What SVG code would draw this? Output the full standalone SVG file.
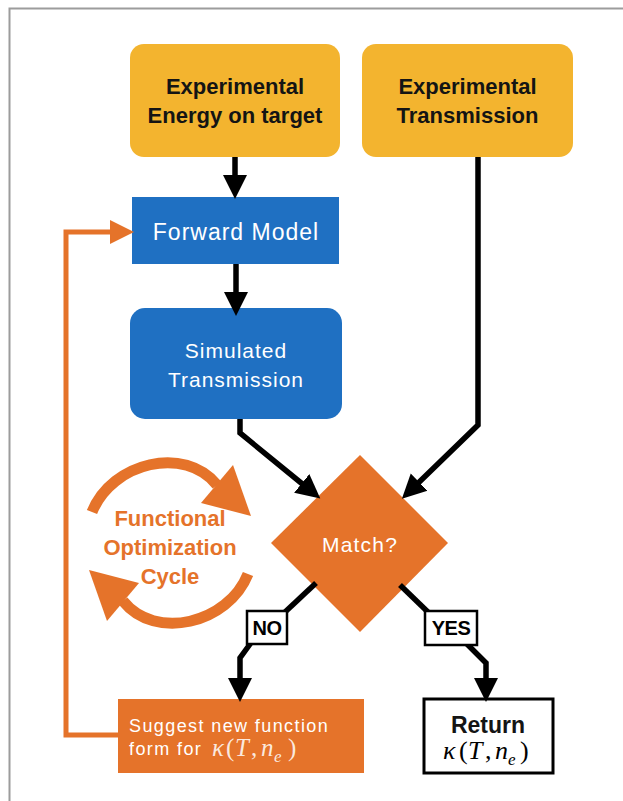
<svg xmlns="http://www.w3.org/2000/svg" width="623" height="801" viewBox="0 0 623 801">
<defs>
<style>
.frame{fill:none;stroke:#9c9c9c;stroke-width:2}
.yel{fill:#F3B42F}
.blue{fill:#1F70C2}
.org{fill:#E5732A}
.bt{font-family:"Liberation Sans",Arial,sans-serif;font-weight:bold;font-size:22px;fill:#141414;text-anchor:middle}
.wt{font-family:"Liberation Sans",Arial,sans-serif;font-size:21px;fill:#fff;text-anchor:middle;letter-spacing:1px}
.conn{fill:none;stroke:#000;stroke-width:5.5}
.oconn{fill:none;stroke:#E5732A;stroke-width:5}
.lab{fill:#fff;stroke:#000;stroke-width:2.5}
.labt{font-family:"Liberation Sans",Arial,sans-serif;font-weight:bold;font-size:20px;text-anchor:middle;fill:#000;letter-spacing:-0.5px}
.math{font-family:"Liberation Serif","Times New Roman",serif;font-style:italic;font-size:25px}
.up{font-style:normal}
.sub{font-size:17px}
.cyc{fill:none;stroke:#E5732A;stroke-width:11}
.cyct{font-family:"Liberation Sans",Arial,sans-serif;font-weight:bold;font-size:22px;fill:#E5732A;text-anchor:middle}
</style>
<marker id="ah" markerUnits="userSpaceOnUse" markerWidth="26" markerHeight="26" viewBox="0 -13 26 26" refX="12" refY="0" orient="auto"><path d="M0,-12 L24,0 L0,12 z" fill="#000"/></marker>
<marker id="aho" markerUnits="userSpaceOnUse" markerWidth="26" markerHeight="26" viewBox="0 -13 26 26" refX="12" refY="0" orient="auto"><path d="M0,-12 L24,0 L0,12 z" fill="#E5732A"/></marker>
</defs>
<rect x="0" y="0" width="623" height="801" fill="#fff"/>
<path class="frame" d="M9.5,801 V8.5 H623"/>

<g id="n-exp-energy">
<rect class="yel" x="130" y="44" width="210" height="113" rx="14"/>
<text class="bt" x="235" y="94">Experimental</text>
<text class="bt" x="235" y="123">Energy on target</text>
</g>
<g id="n-exp-trans">
<rect class="yel" x="362" y="44" width="211" height="113" rx="14"/>
<text class="bt" x="467.5" y="94">Experimental</text>
<text class="bt" x="467.5" y="123">Transmission</text>
</g>
<g id="n-forward">
<rect class="blue" x="132" y="197" width="207" height="67"/>
<text class="wt" x="236" y="240" style="font-size:23px">Forward Model</text>
</g>
<g id="n-sim">
<rect class="blue" x="130" y="308" width="212" height="111" rx="15"/>
<text class="wt" x="236" y="358">Simulated</text>
<text class="wt" x="236" y="387">Transmission</text>
</g>
<g id="n-match">
<path class="org" d="M360,455 L448,543 L360,632 L271,543 z"/>
<text class="wt" x="360" y="552" style="letter-spacing:1.2px">Match?</text>
</g>
<g id="n-suggest">
<rect class="org" x="118" y="699" width="246" height="74"/>
<text class="wt" x="129" y="732" style="font-size:18px;letter-spacing:1.4px;text-anchor:start">Suggest new function</text>
<text class="wt" x="129" y="755" style="font-size:18px;letter-spacing:1.4px;text-anchor:start">form for</text>
<text class="math" fill="#fff" fill-opacity="0.85"><tspan x="212" y="756">κ</tspan><tspan class="up" x="226">(</tspan><tspan x="235">T</tspan><tspan class="up" x="251">,</tspan><tspan x="261">n</tspan><tspan class="sub" x="274" y="762">e</tspan><tspan class="up" x="288" y="756">)</tspan></text>
</g>
<g id="n-return">
<rect x="424" y="699" width="129" height="74" fill="#fff" stroke="#000" stroke-width="3"/>
<text class="bt" x="488" y="733" style="font-size:23px">Return</text>
<text class="math" fill="#000" style="font-size:26px"><tspan x="443" y="759">κ</tspan><tspan class="up" x="459">(</tspan><tspan x="468">T</tspan><tspan class="up" x="485">,</tspan><tspan x="495">n</tspan><tspan class="sub" x="508" y="765">e</tspan><tspan class="up" x="520" y="759">)</tspan></text>
</g>
<g id="g-cycle">
<path class="cyc" d="M92,512 C112,462 185,445 217,485"/>
<polygon fill="#E5732A" points="233,465 251,516 201,503"/>
<path class="cyc" d="M248,574 C228,624 155,641 123,601"/>
<polygon fill="#E5732A" points="107,621 89,570 139,583"/>
<text class="cyct" x="170" y="526">Functional</text>
<text class="cyct" x="170" y="555">Optimization</text>
<text class="cyct" x="170" y="584">Cycle</text>
</g>

<g id="connectors">
<path class="conn" d="M235,157 V187" marker-end="url(#ah)"/>
<path class="conn" d="M236,264 V304" marker-end="url(#ah)"/>
<path class="conn" d="M240,419 V433 L311,491" marker-end="url(#ah)"/>
<path class="conn" d="M478,157 V425 L410.5,490.5" marker-end="url(#ah)"/>
<path class="conn" d="M316,583 L284,613"/>
<path class="conn" d="M253,640 L240,658 V690" marker-end="url(#ah)"/>
<path class="conn" d="M400,585 L430,614"/>
<path class="conn" d="M466,643 L486,663 V690" marker-end="url(#ah)"/>
<path class="oconn" d="M118,735 H66 V232 H122" marker-end="url(#aho)"/>
<rect class="lab" x="247" y="611" width="40" height="33"/>
<text class="labt" x="267" y="635">NO</text>
<rect class="lab" x="425" y="611" width="52" height="34"/>
<text class="labt" x="451" y="635">YES</text>
</g>
</svg>
